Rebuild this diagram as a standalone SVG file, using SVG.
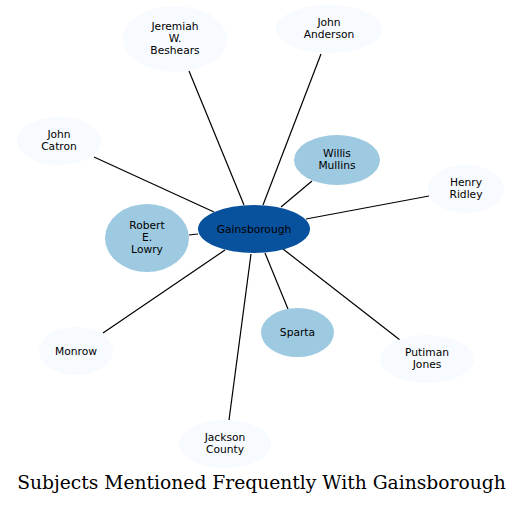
<svg xmlns="http://www.w3.org/2000/svg" width="524" height="505" viewBox="0 0 524 505">
<style>
.light{fill:#f7fbff}
.mid{fill:#9ecae1}
.dark{fill:#08519c}
text{font-family:"DejaVu Sans",sans-serif;font-size:10.7px;text-anchor:middle;fill:#000}
.title{font-family:"DejaVu Serif",serif;font-size:18.7px}
line{stroke:#000;stroke-width:1.2}
</style>
<rect width="524" height="505" fill="#fff"/>
<g id="connectors">
<line x1="189" y1="71" x2="244" y2="205"/>
<line x1="321" y1="54" x2="263" y2="205"/>
<line x1="312" y1="181" x2="281" y2="207"/>
<line x1="94" y1="157" x2="214" y2="212"/>
<line x1="429" y1="196" x2="306" y2="219"/>
<line x1="189" y1="235" x2="198" y2="234"/>
<line x1="103" y1="333" x2="225" y2="250"/>
<line x1="288" y1="309" x2="265" y2="253"/>
<line x1="400" y1="340" x2="283" y2="249"/>
<line x1="229" y1="420" x2="251" y2="254"/>
</g>
<g id="gainsborough"><ellipse class="dark" cx="254" cy="229" rx="56" ry="24"/><text x="254" y="233">Gainsborough</text></g>
<g id="lowry"><ellipse class="mid" cx="147" cy="238" rx="42" ry="34"/><text x="147" y="229">Robert</text><text x="147" y="241">E.</text><text x="147" y="253">Lowry</text></g>
<g id="beshears"><ellipse class="light" cx="175" cy="39" rx="52" ry="33"/><text x="175" y="30">Jeremiah</text><text x="175" y="42">W.</text><text x="175" y="54">Beshears</text></g>
<g id="anderson"><ellipse class="light" cx="329" cy="29" rx="53" ry="24"/><text x="329" y="26">John</text><text x="329" y="38">Anderson</text></g>
<g id="mullins"><ellipse class="mid" cx="337" cy="160" rx="43" ry="25"/><text x="337" y="157">Willis</text><text x="337" y="169">Mullins</text></g>
<g id="catron"><ellipse class="light" cx="59" cy="141" rx="42" ry="24"/><text x="59" y="138">John</text><text x="59" y="150">Catron</text></g>
<g id="ridley"><ellipse class="light" cx="466" cy="189" rx="38" ry="24"/><text x="466" y="186">Henry</text><text x="466" y="198">Ridley</text></g>
<g id="monrow"><ellipse class="light" cx="76" cy="351" rx="37" ry="24"/><text x="76" y="355">Monrow</text></g>
<g id="sparta"><ellipse class="mid" cx="297.5" cy="332.5" rx="36.5" ry="24.5"/><text x="297.5" y="336">Sparta</text></g>
<g id="putiman"><ellipse class="light" cx="427" cy="359" rx="47" ry="24"/><text x="427" y="356">Putiman</text><text x="427" y="368">Jones</text></g>
<g id="jackson"><ellipse class="light" cx="225" cy="444" rx="46" ry="24"/><text x="225" y="441">Jackson</text><text x="225" y="453">County</text></g>
<text class="title" x="261.5" y="489">Subjects Mentioned Frequently With Gainsborough</text>
</svg>
